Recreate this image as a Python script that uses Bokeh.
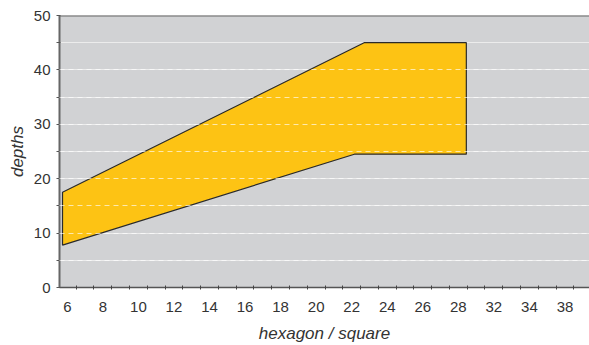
from bokeh.plotting import figure
from bokeh.models import Range1d, FixedTicker, Grid, Span
from bokeh.embed import file_html
from bokeh.resources import INLINE

# ---- data ----
band_x = [5.73, 22.7, 28.45, 28.45, 22.15, 5.73]
band_y = [17.5, 45.0, 45.0, 24.5, 24.5, 7.8]
x_tick_labels = ["6", "8", "10", "12", "14", "16", "18", "20", "22", "24",
                 "26", "28", "32", "34", "38"]
y_ticks = [0, 10, 20, 30, 40, 50]
y_minor = [5, 15, 25, 35, 45]

x_pos = [6 + 2 * i for i in range(len(x_tick_labels))]
x_minor = [6.5 + i for i in range(2 * len(x_tick_labels) - 1)]

FONT = "Liberation Sans"
TXT = "#333333"

p = figure(width=589, height=345, output_backend="svg", toolbar_location=None,
           x_range=Range1d(5.56, 35.38), y_range=Range1d(0, 50),
           min_border_left=59, min_border_right=0, min_border_top=15,
           min_border_bottom=57)
p.background_fill_color = "#d1d2d4"
p.border_fill_color = "white"
p.outline_line_color = None

# grids
p.xgrid.visible = False
p.ygrid.ticker = FixedTicker(ticks=sorted(y_ticks + y_minor))
p.ygrid.grid_line_color = "#ececec"
p.ygrid.grid_line_width = 1.2

p.patch(band_x, band_y, fill_color="#fdc314", line_color="#2a2a2a", line_width=1.2)

dash_grid = Grid(dimension=1, ticker=FixedTicker(ticks=[v for v in sorted(y_ticks + y_minor) if 0 < v < 45]),
                 grid_line_color="white", grid_line_alpha=0.65, grid_line_dash="5 4",
                 grid_line_width=1.2, level="annotation")
p.add_layout(dash_grid)

p.add_layout(Span(location=50, dimension="width", line_color="#666666", line_width=2))

# x axis
xa = p.xaxis[0]
xa.ticker = FixedTicker(ticks=x_pos, minor_ticks=x_minor)
xa.major_label_overrides = {x: l for x, l in zip(x_pos, x_tick_labels)}
xa.major_tick_in = 0
xa.major_tick_out = 0
xa.minor_tick_in = 2
xa.minor_tick_out = 2
xa.minor_tick_line_color = "#444444"
xa.axis_line_color = "#555555"
xa.axis_line_width = 1.5
xa.major_label_standoff = 12
xa.major_label_text_font = FONT
xa.major_label_text_font_size = "15px"
xa.major_label_text_color = TXT
xa.axis_label = "hexagon / square"
xa.axis_label_text_font = FONT
xa.axis_label_text_font_style = "italic"
xa.axis_label_text_font_size = "17px"
xa.axis_label_text_color = TXT
xa.axis_label_standoff = 9

# y axis
ya = p.yaxis[0]
ya.ticker = FixedTicker(ticks=y_ticks, minor_ticks=y_minor)
ya.major_tick_in = 1
ya.major_tick_out = 3
ya.minor_tick_in = 1
ya.minor_tick_out = 3
ya.major_tick_line_color = "#555555"
ya.minor_tick_line_color = "#555555"
ya.axis_line_color = "#666666"
ya.axis_line_width = 2
ya.major_label_standoff = 6
ya.major_label_text_font = FONT
ya.major_label_text_font_size = "15px"
ya.major_label_text_color = TXT
ya.axis_label = "depths"
ya.axis_label_text_font = FONT
ya.axis_label_text_font_style = "italic"
ya.axis_label_text_font_size = "17px"
ya.axis_label_text_color = TXT
ya.axis_label_standoff = 4

open("out.html", "w").write(file_html(p, INLINE))
